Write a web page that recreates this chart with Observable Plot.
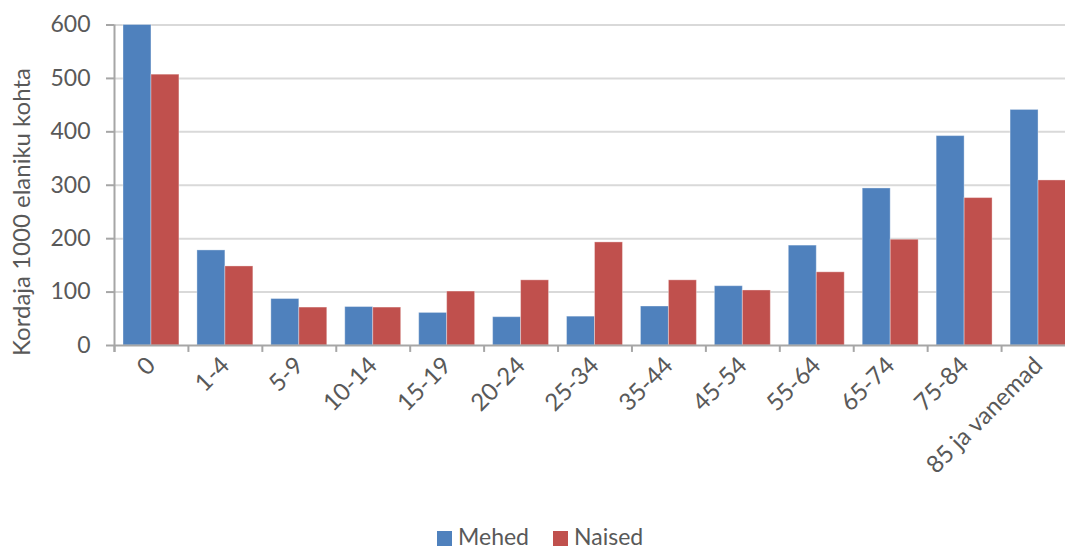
<!DOCTYPE html>
<html>
<head>
<meta charset="utf-8">
<script src="https://cdn.jsdelivr.net/npm/d3@7"></script>
<script src="https://cdn.jsdelivr.net/npm/@observablehq/plot@0.6"></script>
<style>
  html, body { margin: 0; padding: 0; background: white; }
  #wrap { position: relative; width: 1065px; height: 549px; overflow: hidden; font-family: Lato, "Open Sans", sans-serif; }
  #legend { position: absolute; left: 437px; top: 525px; font-size: 23px; color: #595959; white-space: nowrap; line-height: 23px; height: 23px; }
  #legend span.sw { display: inline-block; width: 15px; height: 15px; vertical-align: -1px; margin-right: 6px; }
  #legend span.it { margin-right: 24px; }
</style>
</head>
<body>
<div id="wrap"><div id="chart"></div><div id="legend"></div></div>
<script>
const ages = ["0","1-4","5-9","10-14","15-19","20-24","25-34","35-44","45-54","55-64","65-74","75-84","85 ja vanemad"];
const mehed = [600,178,87,72,61,53,54,73,111,187,294,392,441];
const naised = [507,148,71,71,101,122,193,122,103,137,198,276,309];
const seriesNames = ["Mehed","Naised"];
const colors = ["#4F81BD","#C0504D"];
const yTicks = [0,100,200,300,400,500,600];

const rows = [];
ages.forEach((a,i)=>{ rows.push({age:a, sex:"Mehed", v:mehed[i]}); rows.push({age:a, sex:"Naised", v:naised[i]}); });

const W = 1065, H = 520;
const x0 = 114, x1 = 1075;
const bw = (x1 - x0) / ages.length;
const pad = 9, barW = (bw - 2*pad) / 2;

const plot = Plot.plot({
  width: W, height: H,
  marginTop: 24.5, marginBottom: H - 345, marginLeft: x0, marginRight: W - x1,
  style: {fontFamily: "Lato, 'Open Sans', sans-serif", fontSize: "23px", color: "#595959", overflow: "visible"},
  x: {type: "band", domain: ages, padding: 0, round: false, label: null},
  y: {domain: [0, 600], label: null},
  color: {domain: seriesNames, range: colors},
  marks: [
    Plot.ruleY(yTicks.filter(d=>d>0), {stroke: "#d9d9d9", strokeWidth: 2}),
    Plot.barY(rows.filter(d=>d.sex==="Mehed"), {x: "age", y: "v", fill: "sex", insetLeft: pad, insetRight: pad + barW, stroke: "#ffffff", strokeOpacity: 0.35, strokeWidth: 1}),
    Plot.barY(rows.filter(d=>d.sex==="Naised"), {x: "age", y: "v", fill: "sex", insetLeft: pad + barW, insetRight: pad, stroke: "#ffffff", strokeOpacity: 0.35, strokeWidth: 1}),
    Plot.ruleY([0], {stroke: "#a6a6a6", strokeWidth: 2}),
    Plot.ruleX(ages, {x: d=>d, dx: -bw/2, y1: 0, y2: -13, stroke: "#a6a6a6", strokeWidth: 2}),
    Plot.ruleX([ages[0]], {dx: -bw/2, y1: -13, y2: 600, stroke: "#a6a6a6", strokeWidth: 2}),
    Plot.axisY(yTicks, {tickSize: 8, tickPadding: 16, stroke: "#a6a6a6", strokeWidth: 2, fontSize: 23, fill: "#595959", label: null}),
    Plot.axisX({tickRotate: -45, tickSize: 0, tickPadding: 16, fontSize: 24, fill: "#595959", label: null}),
    Plot.text(["Kordaja 1000 elaniku kohta"], {frameAnchor: "left", dx: -x0 + 22, rotate: -90, fontSize: 24, fill: "#595959", y: () => 250, textAnchor: "middle"})
  ]
});
document.getElementById("chart").appendChild(plot);

const lg = document.getElementById("legend");
seriesNames.forEach((s,i)=>{
  const it = document.createElement("span"); it.className = "it";
  const sw = document.createElement("span"); sw.className = "sw"; sw.style.background = colors[i];
  it.appendChild(sw); it.appendChild(document.createTextNode(s));
  lg.appendChild(it);
});
</script>
</body>
</html>
